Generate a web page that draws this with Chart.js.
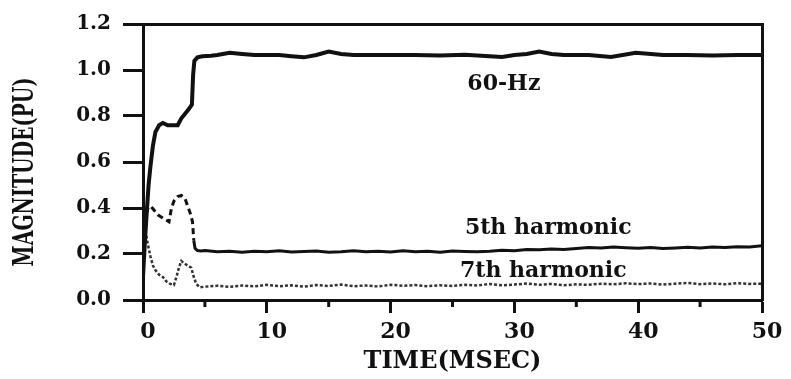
<!DOCTYPE html>
<html>
<head>
<meta charset="utf-8">
<script src="https://cdn.jsdelivr.net/npm/chart.js@4.4.1/dist/chart.umd.min.js"></script>
<style>
  html, body { margin: 0; padding: 0; background: #fff; }
  #wrap { width: 791px; height: 379px; }
</style>
</head>
<body>
<div id="wrap"><canvas id="harmChart" width="791" height="379"></canvas></div>
<script>
// valores (tempo em ms, magnitude em pu)
const time60 = [0, 0.15, 0.3, 0.45, 0.6, 0.8, 1.0, 1.3, 1.6, 2.0, 2.4, 2.8, 3.1, 3.4, 3.7, 3.95, 4.05, 4.15, 4.4, 4.8, 5.5,
  6, 7, 8, 9, 10, 11, 12, 13, 14, 15, 16, 17, 18, 20, 22, 24, 26, 28, 29, 30, 31, 32, 33, 34, 36, 37.8, 39.8, 42, 44, 46, 48, 50];
const mag60 = [0.1, 0.25, 0.38, 0.5, 0.58, 0.67, 0.73, 0.76, 0.77, 0.76, 0.76, 0.76, 0.79, 0.81, 0.83, 0.85, 0.98, 1.04, 1.055, 1.06, 1.062,
  1.065, 1.075, 1.07, 1.065, 1.065, 1.065, 1.06, 1.055, 1.065, 1.08, 1.07, 1.065, 1.065, 1.065, 1.065, 1.063, 1.066, 1.06, 1.057, 1.065, 1.07, 1.08, 1.07, 1.065, 1.065, 1.057, 1.075, 1.065, 1.065, 1.063, 1.065, 1.065];

const time5 = [0, 0.2, 0.4, 0.6, 0.9, 1.2, 1.5, 1.8, 2.1, 2.3, 2.5, 2.8, 3.1, 3.4, 3.6, 3.8, 4.0, 4.1, 4.2, 4.4, 4.7,
  5, 6, 7, 8, 9, 10, 11, 12, 13, 14, 15, 16, 17, 18, 19, 20, 21, 22, 23, 24, 25, 26, 27, 28, 29, 30,
  31, 32, 33, 34, 35, 36, 37, 38, 39, 40, 41, 42, 43, 44, 45, 46, 47, 48, 49, 50];
const mag5 = [0.25, 0.36, 0.4, 0.41, 0.39, 0.37, 0.36, 0.35, 0.34, 0.4, 0.43, 0.45, 0.455, 0.44, 0.41, 0.38, 0.34, 0.26, 0.225, 0.215, 0.213,
  0.215, 0.21, 0.212, 0.208, 0.212, 0.21, 0.214, 0.209, 0.211, 0.213, 0.208, 0.21, 0.214, 0.21, 0.212, 0.209, 0.214, 0.21, 0.212, 0.208, 0.213, 0.211, 0.21, 0.212, 0.216, 0.214,
  0.22, 0.218, 0.222, 0.22, 0.224, 0.228, 0.226, 0.23, 0.227, 0.225, 0.228, 0.224, 0.226, 0.229, 0.226, 0.23, 0.228, 0.232, 0.23, 0.236];

const time7 = [0, 0.2, 0.4, 0.6, 0.8, 1.0, 1.3, 1.6, 1.9, 2.2, 2.5, 2.7, 2.9, 3.1, 3.3, 3.6, 3.9, 4.1, 4.3, 4.6,
  5, 6, 7, 8, 9, 10, 11, 12, 13, 14, 15, 16, 17, 18, 19, 20, 21, 22, 23, 24, 25, 26, 27, 28, 29, 30,
  31, 32, 33, 34, 35, 36, 37, 38, 39, 40, 41, 42, 43, 44, 45, 46, 47, 48, 49, 50];
const mag7 = [0.32, 0.3, 0.24, 0.19, 0.15, 0.13, 0.11, 0.1, 0.08, 0.07, 0.065, 0.1, 0.14, 0.17, 0.16, 0.15, 0.14, 0.1, 0.07, 0.055,
  0.058, 0.062, 0.057, 0.063, 0.059, 0.066, 0.06, 0.064, 0.058, 0.065, 0.061, 0.067, 0.06, 0.063, 0.059, 0.066, 0.062, 0.065, 0.06, 0.064, 0.061, 0.066, 0.063, 0.07, 0.064, 0.067,
  0.072, 0.066, 0.07, 0.064, 0.068, 0.066, 0.071, 0.068, 0.073, 0.069, 0.072, 0.067, 0.071, 0.074, 0.069, 0.072, 0.068, 0.073, 0.07, 0.071];

const xMajor = [0, 10, 20, 30, 40, 50];
const xMinor = [5, 15, 25, 35, 45];
const yTicks = [0, 0.2, 0.4, 0.6, 0.8, 1.0, 1.2];

const seriesLabels = ['60-Hz', '5th harmonic', '7th harmonic'];
const labelAt = [[26.2, 0.912], [26.0, 0.288], [25.6, 0.099]]; // [tempo, magnitude] da base do texto

const yTitle = 'MAGNITUDE(PU)';
const xTitle = 'TIME(MSEC)';

const ink = '#111';
const fam = "'DejaVu Serif', 'Liberation Serif', serif";

function pts(t, v) {
  return t.map((x, i) => ({ x: x, y: v[i] }));
}

// desenha rótulos das curvas, título do eixo y e traços menores
const extras = {
  id: 'extras',
  afterDraw(chart) {
    const ctx = chart.ctx;
    const sx = chart.scales.x, sy = chart.scales.y;
    ctx.save();
    ctx.strokeStyle = ink;
    ctx.lineWidth = 3;
    xMinor.forEach(v => {
      const px = sx.getPixelForValue(v);
      ctx.beginPath();
      ctx.moveTo(px, sy.bottom);
      ctx.lineTo(px, sy.bottom + 7);
      ctx.stroke();
    });

    ctx.fillStyle = ink;
    ctx.font = "bold 22px " + fam;
    ctx.textAlign = 'left';
    ctx.textBaseline = 'alphabetic';
    seriesLabels.forEach((txt, i) => {
      ctx.fillText(txt, sx.getPixelForValue(labelAt[i][0]), sy.getPixelForValue(labelAt[i][1]));
    });

    ctx.translate(26, (sy.top + sy.bottom) / 2 + 10);
    ctx.scale(1.5, 1);
    ctx.rotate(-Math.PI / 2);
    ctx.font = "bold 19px " + fam;
    ctx.textAlign = 'center';
    ctx.textBaseline = 'middle';
    ctx.fillText(yTitle, 0, 0);
    ctx.restore();
  }
};

const ctx = document.getElementById('harmChart').getContext('2d');
const chart = new Chart(ctx, {
  type: 'line',
  data: {
    datasets: [{
      label: seriesLabels[0],
      data: pts(time60, mag60),
      borderColor: ink,
      borderWidth: 4,
      pointRadius: 0,
      tension: 0
    }, {
      label: seriesLabels[1],
      data: pts(time5, mag5),
      borderColor: ink,
      borderWidth: 3,
      pointRadius: 0,
      tension: 0,
      segment: {
        borderDash: c => c.p0.parsed.x < 4.1 ? [6, 4] : undefined
      }
    }, {
      label: seriesLabels[2],
      data: pts(time7, mag7),
      borderColor: '#333',
      borderWidth: 2.5,
      borderDash: [3, 2],
      pointRadius: 0,
      tension: 0
    }]
  },
  options: {
    responsive: false,
    animation: false,
    layout: { padding: { top: 20, right: 29, bottom: 0, left: 0 } },
    plugins: { legend: { display: false }, tooltip: { enabled: false } },
    scales: {
      x: {
        type: 'linear',
        position: 'bottom',
        min: 0, max: 50,
        afterBuildTicks: s => { s.ticks = xMajor.map(v => ({ value: v })); },
        afterFit: s => { s.height = 79; },
        grid: { drawOnChartArea: false, tickLength: 13, tickWidth: 3, tickColor: ink },
        border: { display: true, width: 3, color: ink },
        ticks: {
          color: ink, padding: 6, labelOffset: 5, maxRotation: 0, autoSkip: false,
          font: { family: fam, size: 22, weight: 'bold' }
        },
        title: {
          display: true, text: xTitle, color: ink,
          font: { family: fam, size: 24, weight: 'bold' },
          padding: { top: 0, bottom: 3 }
        }
      },
      y: {
        position: 'left',
        min: 0, max: 1.2,
        afterBuildTicks: s => { s.ticks = yTicks.map(v => ({ value: v })); },
        afterFit: s => { s.width = 143; },
        grid: { drawOnChartArea: false, tickLength: 20, tickWidth: 3, tickColor: ink },
        border: { display: true, width: 3, color: ink },
        ticks: {
          color: ink, padding: 12,
          font: { family: fam, size: 20, weight: 'bold' },
          callback: v => v.toFixed(1)
        }
      },
      x2: {
        type: 'linear',
        position: 'top',
        min: 0, max: 50,
        afterFit: s => { s.height = 0; },
        grid: { display: false },
        ticks: { display: false },
        border: { display: true, width: 3, color: ink }
      },
      y2: {
        position: 'right',
        min: 0, max: 1.2,
        afterFit: s => { s.width = 0; },
        grid: { display: false },
        ticks: { display: false },
        border: { display: true, width: 3, color: ink }
      }
    }
  },
  plugins: [extras]
});
</script>
</body>
</html>
